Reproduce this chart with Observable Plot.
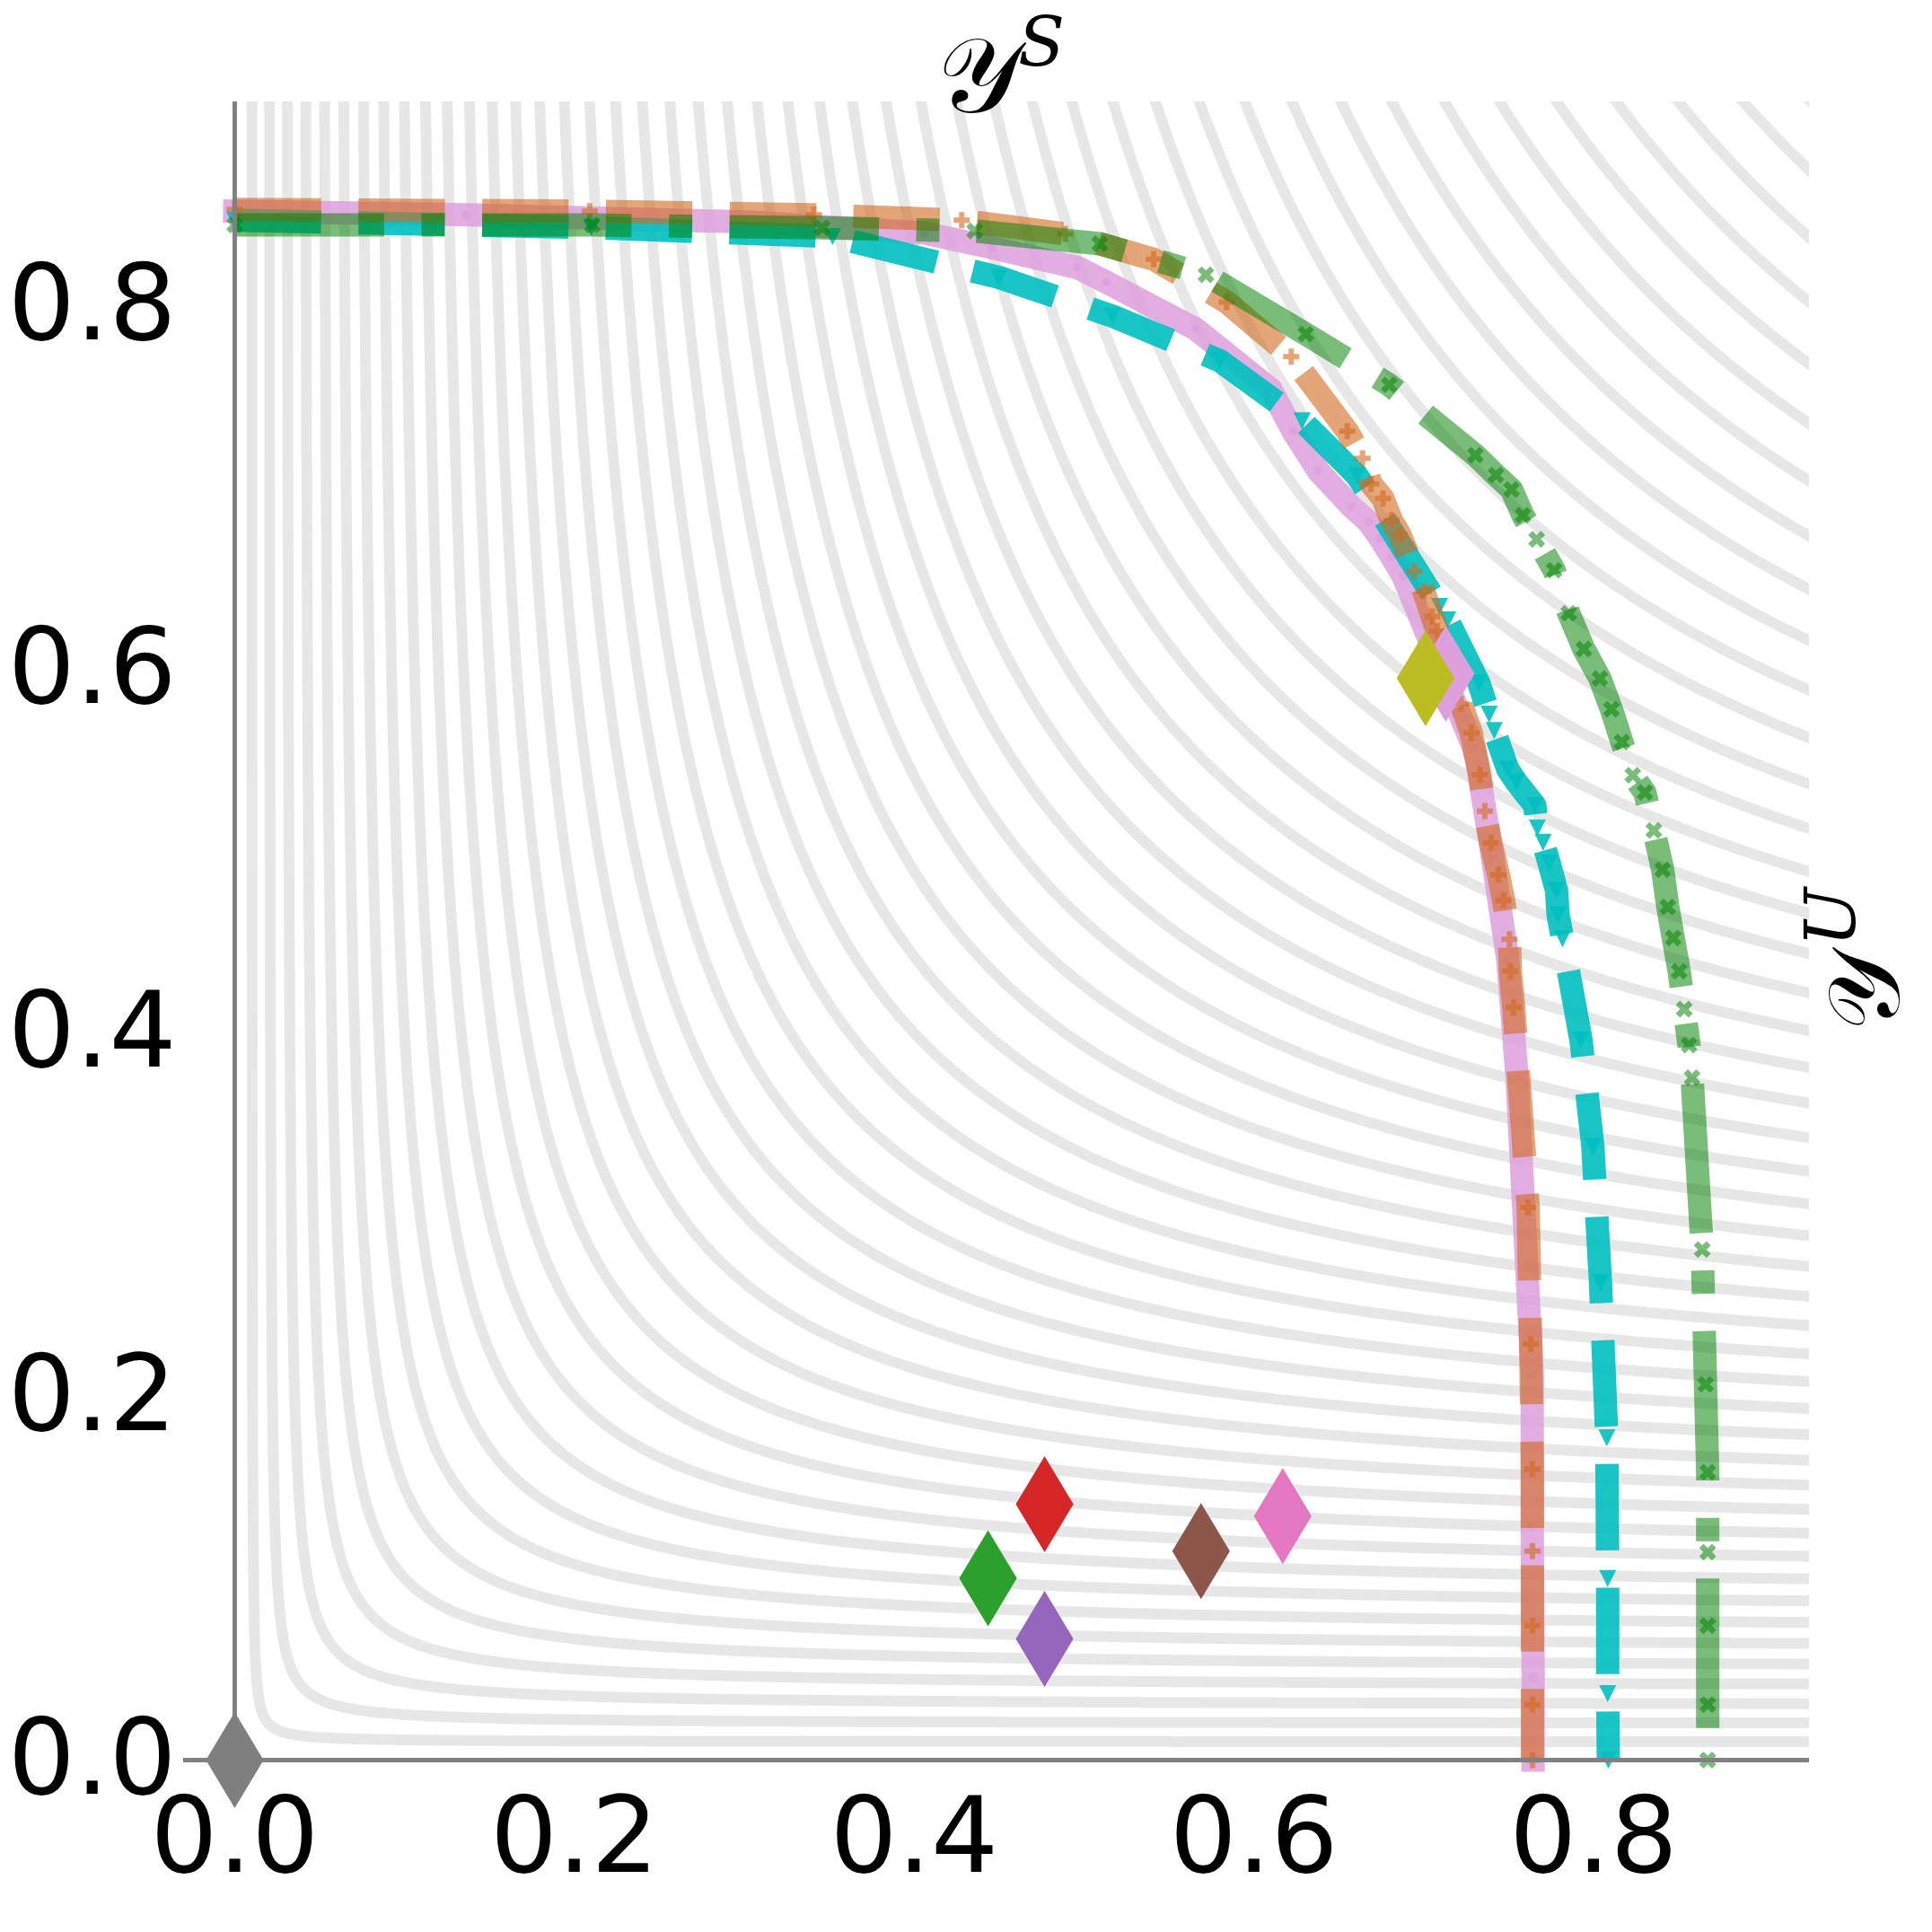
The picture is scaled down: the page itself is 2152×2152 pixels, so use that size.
<!DOCTYPE html>
<html><head><meta charset="utf-8">
<script src="https://cdn.jsdelivr.net/npm/d3@7"></script>
<script src="https://cdn.jsdelivr.net/npm/@observablehq/plot@0.6"></script>
<style>html,body{margin:0;padding:0;background:#fff;}</style>
</head><body><div id="chart"></div>
<script>
// ---------- data ----------
const xTicks = [0.0, 0.2, 0.4, 0.6, 0.8];
const yTicks = [0.0, 0.2, 0.4, 0.6, 0.8];
// harmonic-mean iso levels drawn in the background
const isoLevels = [0.02,0.04,0.06,0.08,0.10,0.12,0.14,0.16,0.18,0.20,0.22,0.24,0.26,0.28,0.30,0.32,0.34,0.36,0.38,0.40,0.42,0.44,0.46,0.48,0.50,0.52,0.54,0.56,0.58,0.60,0.62,0.64,0.66,0.68,0.70,0.72,0.74,0.76,0.78,0.80,0.82,0.84,0.86,0.88,0.90,0.92,0.94,0.96,0.98];

const frontPink = [[0,0.852],[0.136,0.850],[0.305,0.846],[0.406,0.840],[0.4456,0.832],[0.496,0.821],[0.513,0.813],[0.566,0.787],[0.610,0.754],[0.623,0.731],[0.638,0.709],[0.6575,0.6895],[0.6675,0.681],[0.6743,0.672],[0.681,0.662],[0.6877,0.6516],[0.7294,0.5568],[0.7315,0.5483],[0.7407,0.4954],[0.7495,0.4405],[0.7549,0.3763],[0.7639,0.2117],[0.7639,0.1291],[0.7644,0.0456],[0.7644,0]];

const frontCyan = [[0,0.847],[0.21,0.843],[0.352,0.838],[0.4498,0.8156],[0.5166,0.7943],[0.5799,0.7698],[0.6284,0.7367],[0.6608,0.7065],[0.7093,0.6346],[0.7141,0.6271],[0.7324,0.5926],[0.7385,0.5753],[0.7415,0.5663],[0.7495,0.545],[0.7545,0.538],[0.7654,0.5251],[0.7669,0.5127],[0.7703,0.5048],[0.7738,0.4935],[0.7782,0.4784],[0.7791,0.4651],[0.7817,0.4519],[0.7926,0.3961],[0.7996,0.3375],[0.8041,0.2624],[0.8078,0.1773],[0.8083,0.0999],[0.8083,0.0365],[0.8087,0]];

const frontOrange = [[0,0.853],[0.209,0.852],[0.341,0.850],[0.428,0.847],[0.489,0.8395],[0.541,0.8255],[0.584,0.802],[0.622,0.772],[0.655,0.731],[0.664,0.716],[0.669,0.702],[0.676,0.694],[0.681,0.682],[0.686,0.674],[0.6945,0.654],[0.700,0.643],[0.705,0.629],[0.708,0.621],[0.722,0.581],[0.728,0.565],[0.733,0.542],[0.736,0.522],[0.7395,0.5045],[0.744,0.487],[0.747,0.473],[0.7505,0.4515],[0.751,0.434],[0.753,0.414],[0.7615,0.304],[0.763,0.229],[0.764,0.160],[0.764,0.115],[0.764,0.074],[0.764,0.0305],[0.764,0]];

const frontGreen = [[0,0.8444],[0.2105,0.8444],[0.3459,0.8428],[0.4356,0.8411],[0.5093,0.8341],[0.5718,0.817],[0.6306,0.7844],[0.6797,0.7565],[0.7304,0.7178],[0.7425,0.7068],[0.7517,0.6989],[0.7584,0.6847],[0.7665,0.6715],[0.7768,0.6545],[0.7854,0.6308],[0.7943,0.6111],[0.8037,0.595],[0.8105,0.578],[0.8167,0.56],[0.8231,0.5417],[0.8302,0.5322],[0.8355,0.5114],[0.8407,0.4897],[0.8437,0.4693],[0.8469,0.4522],[0.8504,0.4339],[0.8534,0.4131],[0.8562,0.3933],[0.858,0.3753],[0.864,0.2808],[0.8659,0.2066],[0.8672,0.1584],[0.8672,0.1144],[0.8672,0.0739],[0.8672,0.0305],[0.8672,0]];

const pointNames = ["P0","P1","P2","P3","P4","P5","P6","P7"];
const pointX = [0.0, 0.4768, 0.4435, 0.4768, 0.5689, 0.617, 0.713, 0.7011];
const pointY = [0.0, 0.1407, 0.100, 0.0667, 0.1149, 0.1342, 0.5975, 0.5951];
const points = pointNames.map((n, i) => ({name: n, x: pointX[i], y: pointY[i]}));

// ---------- styling ----------
const pointColors = ["#7f7f7f","#d62728","#2ca02c","#9467bd","#8c564b","#e377c2","#dda0dd","#bcbd22"];
const X_DOMAIN = [-0.0301, 0.9271];
const Y_DOMAIN = [0, 0.9121];
const LW = 26;

function pathPts(ctx, pts) {
  ctx.moveTo(pts[0][0], pts[0][1]);
  for (let i = 1; i < pts.length; ++i) ctx.lineTo(pts[i][0], pts[i][1]);
  ctx.closePath();
}
const thinDiamond = {draw(ctx, size) { const r = Math.sqrt(size / Math.PI), w = 0.6 * r; pathPts(ctx, [[0,-r],[w,0],[0,r],[-w,0]]); }};
function plusPts(r) { const b = r / 3; return [[-b,-r],[b,-r],[b,-b],[r,-b],[r,b],[b,b],[b,r],[-b,r],[-b,b],[-r,b],[-r,-b],[-b,-b]]; }
const filledPlus = {draw(ctx, size) { const r = Math.sqrt(size / Math.PI); pathPts(ctx, plusPts(r)); }};
const filledX = {draw(ctx, size) { const r = Math.sqrt(size / Math.PI); const s = Math.SQRT1_2; pathPts(ctx, plusPts(r).map(([x, y]) => [(x - y) * s, (x + y) * s])); }};
const triDown = {draw(ctx, size) { const r = Math.sqrt(size / Math.PI); pathPts(ctx, [[-r,-r],[r,-r],[0,r]]); }};

const hm = (x, y) => (x + y > 0 ? 2 * x * y / (x + y) : 0);

const series = [
  {data: frontPink, color: "#dda0dd", op: 0.85, dash: null, cap: "square", sym: "circle", r: 5},
  {data: frontCyan, color: "#00bfbf", op: 0.9, dash: [3.7*LW, 1.6*LW].join(","), cap: "butt", sym: triDown, r: 9.5},
  {data: frontOrange, color: "#d2691e", op: 0.6, dash: [3.7*LW, 1.6*LW].join(","), cap: "butt", sym: filledPlus, r: 9},
  {data: frontGreen, color: "#008000", op: 0.52, dash: [6.4*LW, 1.6*LW, 1*LW, 1.6*LW].join(","), cap: "butt", sym: filledX, r: 10}
];

const marks = [
  Plot.contour(undefined, {value: hm, x1: 0, x2: 1.05, y1: 0, y2: 1.05, thresholds: isoLevels,
    stroke: "#e7e7e7", strokeWidth: 12, fill: "none", pixelSize: 3, clip: true})
];
for (const s of series) {
  marks.push(Plot.line(s.data, {x: d => d[0], y: d => d[1], stroke: s.color, strokeOpacity: s.op, strokeWidth: LW,
    strokeDasharray: s.dash || undefined, strokeLinecap: s.cap, strokeLinejoin: "round", curve: "linear"}));
  marks.push(Plot.dot(s.data, {x: d => d[0], y: d => d[1], symbol: s.sym, r: s.r, fill: s.color, fillOpacity: s.op, stroke: "none"}));
}
marks.push(Plot.ruleX([0], {stroke: "#808080", strokeWidth: 5}));
marks.push(Plot.ruleY([0], {stroke: "#808080", strokeWidth: 5}));
marks.push(Plot.dot(points, {x: "x", y: "y", fill: "name", symbol: thinDiamond, r: 53.5, stroke: "none"}));
// axis titles
marks.push(Plot.text(["𝒴"], {frameAnchor: "top", dx: -20, dy: -72, fontSize: 118, fontFamily: "DejaVu Serif", fill: "black"}));
marks.push(Plot.text(["S"], {frameAnchor: "top", dx: 50, dy: -94, fontSize: 76, fontFamily: "DejaVu Serif", fontStyle: "italic", fill: "black"}));
marks.push(Plot.text(["𝒴"], {frameAnchor: "right", dx: 64, dy: 24, rotate: -90, fontSize: 112, fontFamily: "DejaVu Serif", fill: "black"}));
marks.push(Plot.text(["U"], {frameAnchor: "right", dx: 26, dy: -48, rotate: -90, fontSize: 78, fontFamily: "DejaVu Serif", fontStyle: "italic", fill: "black"}));

const chart = Plot.plot({
  width: 2152, height: 2152,
  marginLeft: 204, marginRight: 137, marginTop: 113, marginBottom: 192,
  style: {fontFamily: "DejaVu Sans", fontSize: "118px", color: "black", background: "white"},
  x: {domain: X_DOMAIN, ticks: xTicks, tickFormat: d3.format(".1f"), tickSize: 0, tickPadding: 41, label: null},
  y: {domain: Y_DOMAIN, ticks: yTicks, tickFormat: d3.format(".1f"), tickSize: 0, tickPadding: 8, label: null},
  color: {domain: pointNames, range: pointColors},
  marks
});
document.getElementById("chart").appendChild(chart);
</script>
</body></html>
